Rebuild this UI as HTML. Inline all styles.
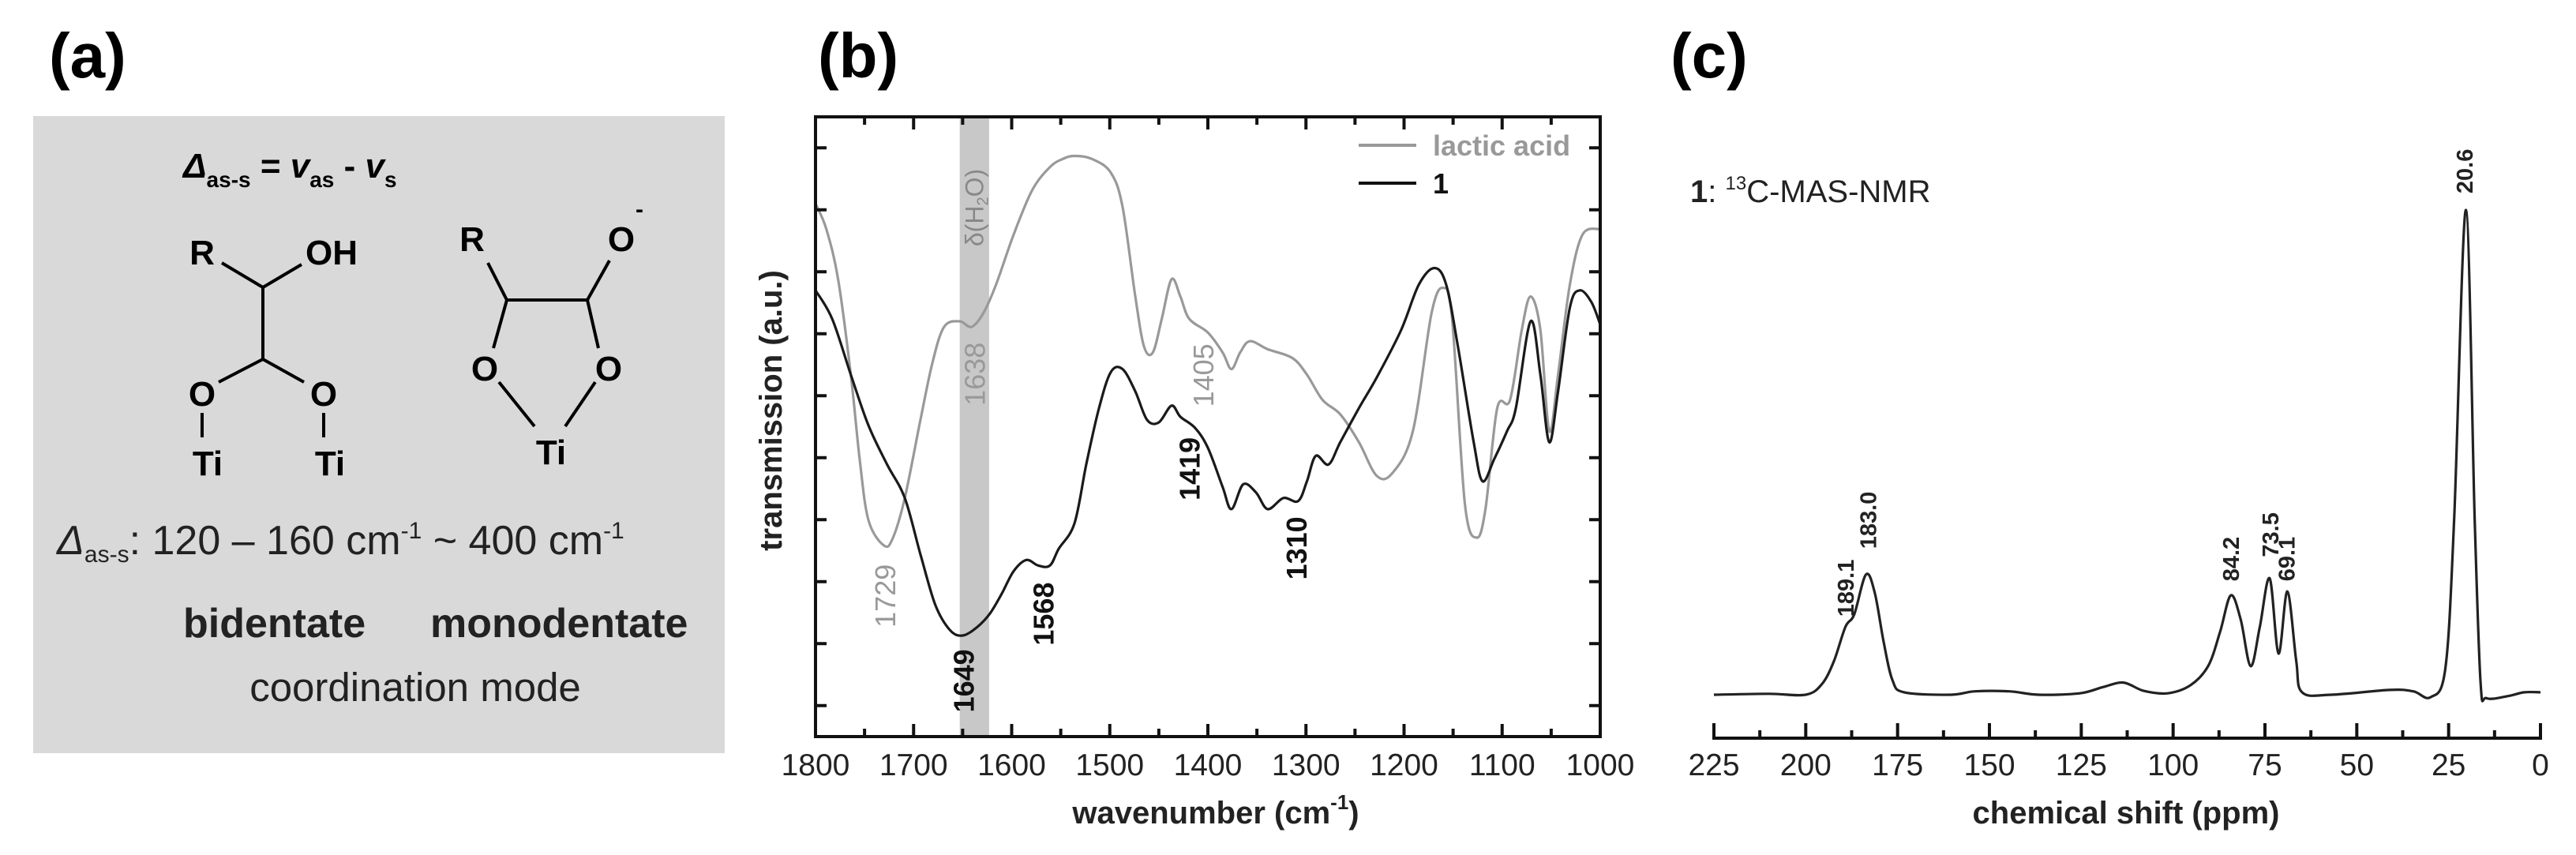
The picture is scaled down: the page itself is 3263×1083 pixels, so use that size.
<!DOCTYPE html>
<html><head><meta charset="utf-8"><style>
html,body{margin:0;padding:0;background:#fff;}
svg{display:block;font-family:"Liberation Sans",sans-serif;}
</style></head><body>
<svg id="fig" width="3263" height="1083" viewBox="0 0 3263 1083" xmlns="http://www.w3.org/2000/svg">
  <!-- Panel a -->
  <g>
    <text x="62" y="98" font-size="80" font-weight="bold">(a)</text>
    <rect x="42" y="147" width="876" height="807" fill="#d9d9d9"/>
    <text x="232" y="225" font-size="44" font-weight="bold"><tspan font-style="italic">Δ</tspan><tspan font-size="28" dy="12">as-s</tspan><tspan dy="-12"> = </tspan><tspan font-style="italic">v</tspan><tspan font-size="28" dy="12">as</tspan><tspan dy="-12"> - </tspan><tspan font-style="italic">v</tspan><tspan font-size="28" dy="12">s</tspan></text>
    <g stroke="#000" stroke-width="4" fill="none">
      <line x1="281" y1="333" x2="333" y2="364"/>
      <line x1="333" y1="364" x2="382" y2="335"/>
      <line x1="333" y1="364" x2="333" y2="455"/>
      <line x1="333" y1="455" x2="277" y2="484"/>
      <line x1="333" y1="455" x2="385" y2="484"/>
      <line x1="256" y1="523" x2="256" y2="554"/>
      <line x1="410" y1="523" x2="410" y2="554"/>
    </g>
    <g font-size="44" font-weight="bold" text-anchor="middle">
      <text x="256" y="335">R</text><text x="420" y="335">OH</text>
      <text x="256" y="514">O</text><text x="410" y="514">O</text>
      <text x="263" y="602">Ti</text><text x="418" y="602">Ti</text>
    </g>
    <g stroke="#000" stroke-width="4" fill="none">
      <line x1="618" y1="333" x2="642" y2="380"/>
      <line x1="642" y1="380" x2="744" y2="380"/>
      <line x1="744" y1="380" x2="772" y2="330"/>
      <line x1="642" y1="380" x2="625" y2="441"/>
      <line x1="744" y1="380" x2="758" y2="441"/>
      <line x1="632" y1="484" x2="677" y2="540"/>
      <line x1="754" y1="484" x2="716" y2="540"/>
    </g>
    <g font-size="44" font-weight="bold" text-anchor="middle">
      <text x="598" y="318">R</text><text x="787" y="318">O</text>
      <text x="810" y="275" font-size="30">-</text>
      <text x="614" y="482">O</text><text x="771" y="482">O</text>
      <text x="698" y="588">Ti</text>
    </g>
    <text x="72" y="702" font-size="52" fill="#222"><tspan font-style="italic">Δ</tspan><tspan font-size="30" dy="10">as-s</tspan><tspan dy="-10">:  120 – 160 cm</tspan><tspan font-size="30" dy="-20">-1</tspan><tspan dy="20">    ~ 400 cm</tspan><tspan font-size="30" dy="-20">-1</tspan></text>
    <text x="232" y="807" font-size="52" font-weight="bold" fill="#222">bidentate</text>
    <text x="545" y="807" font-size="52" font-weight="bold" fill="#222">monodentate</text>
    <text x="526" y="888" font-size="51" text-anchor="middle" fill="#222">coordination mode</text>
  </g>

  <!-- Panel b -->
  <g id="pb">
    <text x="1036" y="98" font-size="80" font-weight="bold">(b)</text>
  </g>
  <!-- Panel c -->
  <g id="pc">
    <text x="2116" y="98" font-size="80" font-weight="bold">(c)</text>
  </g>
</svg>
<script>
// ---------- Panel b data ----------
const irLacticWn = [1800,1789,1777,1764,1755,1746,1730,1721,1709,1693,1681,1669,1653,1641,1629,1616,1598,1579,1561,1548,1536,1518,1499,1487,1474,1465,1456,1447,1437,1428,1419,1400,1385,1376,1367,1357,1339,1314,1299,1283,1265,1246,1228,1212,1191,1172,1160,1151,1138,1126,1117,1105,1092,1080,1071,1061,1052,1043,1031,1018,1000];
const irLacticT = [86.0,81.9,73.8,58.4,44.8,34.9,30.8,32.1,38.5,51.1,60.2,66.1,67.0,66.1,68.3,72.9,81.0,88.2,91.9,93.2,93.7,93.2,91.0,85.5,71.0,62.9,62.0,67.4,73.8,71.0,67.4,65.2,62.0,59.3,62.0,63.8,62.5,61.1,58.4,54.3,52.0,47.5,42.1,42.5,49.3,68.3,72.4,67.4,37.6,32.1,36.7,53.0,54.3,65.6,71.0,65.6,49.3,58.4,72.9,81.0,81.9];
const irSample1Wn = [1800,1783,1764,1746,1727,1709,1693,1678,1663,1650,1635,1622,1610,1598,1585,1573,1561,1552,1536,1524,1511,1499,1487,1474,1462,1450,1437,1428,1413,1400,1385,1376,1364,1351,1339,1323,1308,1299,1290,1277,1265,1246,1228,1203,1185,1169,1157,1145,1129,1120,1108,1095,1086,1071,1061,1052,1043,1031,1021,1009,1000];
const irSample1T = [72.0,67.4,58.4,50.2,43.9,38.5,29.4,21.3,17.2,16.3,17.7,19.9,23.1,26.7,28.5,27.6,27.6,30.3,34.4,43.9,53.0,58.8,59.3,55.7,51.1,50.7,53.4,51.6,49.8,46.6,40.3,36.7,40.7,39.4,36.7,38.5,38.0,41.2,45.3,43.9,47.5,53.0,57.9,65.6,72.9,75.6,72.9,62.9,47.5,41.2,44.8,49.3,53.0,67.0,58.4,47.5,55.7,69.2,72.0,70.1,66.5];
const irXTicks = [1800,1700,1600,1500,1400,1300,1200,1100,1000];
const irYTicks = [5,15,25,35,45,55,65,75,85,95];
const waterBand = [1653,1623];
const irAnnotWn = [1729,1638,1649,1568,1419,1405,1310];
const irAnnotT = [22.7,58.5,9.0,19.8,43.2,58.3,30.4];
const irAnnotDark = [false,false,true,true,true,false,true];

// ---------- Panel c data ----------
const nmrPpm = [225,210,200,195.5,192.3,189.2,186.8,183.6,181.2,178.8,176.4,173.2,160.5,154,144.6,136.6,125.4,119,113.5,108,101.5,95.2,90.4,87.2,84.3,81.6,78.9,76.4,73.7,71.3,68.9,66.5,64.9,57,41,34.6,29.9,25.9,23.5,20.3,17.9,16.3,14.7,9,4.4,0];
const nmrI = [0,0.2,0,2.3,7,14,16.6,24.8,21,10.9,3,0.5,0,0.7,0.7,0,0.3,1.6,2.5,0.8,0.3,2,6,13,20.5,15.5,5.9,14,24,8.5,21.3,7,0.5,0,1,0.7,-0.5,5.4,36,100,36,2.3,-0.7,-0.3,0.5,0.5];
const nmrXTicks = [225,200,175,150,125,100,75,50,25,0];
const nmrLabelPpm = [20.6,183.0,189.1,84.2,73.5,69.1];
const nmrLabelText = ["20.6","183.0","189.1","84.2","73.5","69.1"];
const nmrLabelI = [108,36,22,28,33,28];

const NS='http://www.w3.org/2000/svg';
function mk(tag, attrs, parent){const e=document.createElementNS(NS,tag);for(const k in attrs)e.setAttribute(k,attrs[k]);parent.appendChild(e);return e;}
function smooth(pts){let d='M'+pts[0][0].toFixed(1)+','+pts[0][1].toFixed(1);for(let i=0;i<pts.length-1;i++){const p0=pts[Math.max(0,i-1)],p1=pts[i],p2=pts[i+1],p3=pts[Math.min(pts.length-1,i+2)];const c1=[p1[0]+(p2[0]-p0[0])/6,p1[1]+(p2[1]-p0[1])/6],c2=[p2[0]-(p3[0]-p1[0])/6,p2[1]-(p3[1]-p1[1])/6];d+=' C'+c1[0].toFixed(1)+','+c1[1].toFixed(1)+' '+c2[0].toFixed(1)+','+c2[1].toFixed(1)+' '+p2[0].toFixed(1)+','+p2[1].toFixed(1);}return d;}

// Panel b
const pb=document.getElementById('pb');
const L=1033,R=2027,T=148,B=933;
const xb=w=>L+(1800-w)/800*(R-L);
const yb=v=>B-v/100*(B-T);
const band=mk('rect',{x:xb(waterBand[0]),y:T,width:xb(waterBand[1])-xb(waterBand[0]),height:B-T,fill:'#c8c8c8'},pb);


const bt=mk('text',{x:0,y:0,'font-size':32,fill:'#888','text-anchor':'middle',transform:`translate(${(xb(waterBand[0])+xb(waterBand[1]))/2+11},263) rotate(-90)`},pb);
bt.innerHTML='δ(H<tspan font-size="20" dy="6">2</tspan><tspan dy="-6">O)</tspan>';


const gl=mk('path',{d:smooth(irLacticWn.map((w,i)=>[xb(w),yb(irLacticT[i])])),fill:'none',stroke:'#999','stroke-width':3.2},pb);


const bl=mk('path',{d:smooth(irSample1Wn.map((w,i)=>[xb(w),yb(irSample1T[i])])),fill:'none',stroke:'#1a1a1a','stroke-width':3.2},pb);


const fr=mk('rect',{x:L,y:T,width:R-L,height:B-T,fill:'none',stroke:'#111','stroke-width':4},pb);


for(let w=1800;w>=1000;w-=50){const x=xb(w);const len=(w%100===0)?16:10;
  const t1=mk('line',{x1:x,y1:B,x2:x,y2:B-len,stroke:'#111','stroke-width':4},pb);
  
  
  const t2=mk('line',{x1:x,y1:T,x2:x,y2:T+len,stroke:'#111','stroke-width':4},pb);
  
  }
irXTicks.forEach(w=>{const t=mk('text',{x:xb(w),y:982,'font-size':39,'text-anchor':'middle',fill:'#222'},pb);t.textContent=w;
  
  });
irYTicks.forEach(v=>{const y=yb(v);
  const a=mk('line',{x1:L,y1:y,x2:L+14,y2:y,stroke:'#111','stroke-width':4},pb);
  
  
  const b=mk('line',{x1:R,y1:y,x2:R-14,y2:y,stroke:'#111','stroke-width':4},pb);
  
  });
const yt=mk('text',{x:0,y:0,'font-size':40,'font-weight':'bold','text-anchor':'middle',fill:'#222',transform:'translate(990,520) rotate(-90)'},pb);
yt.textContent='transmission (a.u.)';


const xt=mk('text',{x:1540,y:1043,'font-size':40,'font-weight':'bold','text-anchor':'middle',fill:'#222'},pb);
xt.innerHTML='wavenumber (cm<tspan font-size="26" dy="-18">-1</tspan><tspan dy="18">)</tspan>';


irAnnotWn.forEach((w,i)=>{const t=mk('text',{x:0,y:0,'font-size':36,'font-weight':irAnnotDark[i]?'bold':'normal',fill:irAnnotDark[i]?'#111':'#999','text-anchor':'middle',transform:`translate(${xb(w)+13},${yb(irAnnotT[i])}) rotate(-90)`},pb);t.textContent=w;
  
  });
// legend
const lg=mk('g',{},pb);


const l1=mk('line',{x1:1721,y1:184,x2:1794,y2:184,stroke:'#999','stroke-width':4},lg);


const lt1=mk('text',{x:1815,y:197,'font-size':36,'font-weight':'bold',fill:'#999'},lg);lt1.textContent='lactic acid';


const l2=mk('line',{x1:1721,y1:232,x2:1794,y2:232,stroke:'#111','stroke-width':4},lg);


const lt2=mk('text',{x:1815,y:245,'font-size':36,'font-weight':'bold',fill:'#111'},lg);lt2.textContent='1';



// Panel c
const pc=document.getElementById('pc');
const CL=2171,CR=3218,CA=935,C0=880,C100=266;
const xc=p=>CL+(225-p)/225*(CR-CL);
const yc=v=>C0-v/100*(C0-C100);
const nl=mk('path',{d:smooth(nmrPpm.map((p,i)=>[xc(p),yc(nmrI[i])])),fill:'none',stroke:'#222','stroke-width':3.2},pc);


const ax=mk('line',{x1:CL-2,y1:CA,x2:CR+2,y2:CA,stroke:'#111','stroke-width':4},pc);


for(let p=225;p>=0;p-=12.5){const x=xc(p);const len=(p%25===0)?19:10;
  const t=mk('line',{x1:x,y1:CA,x2:x,y2:CA-len,stroke:'#111','stroke-width':4},pc);
  
  }
nmrXTicks.forEach(p=>{const t=mk('text',{x:xc(p),y:982,'font-size':39,'text-anchor':'middle',fill:'#222'},pc);t.textContent=p;
  
  });
const ct=mk('text',{x:2693,y:1043,'font-size':40,'font-weight':'bold','text-anchor':'middle',fill:'#222'},pc);ct.textContent='chemical shift (ppm)';


const tt=mk('text',{x:2141,y:256,'font-size':40,fill:'#222'},pc);
tt.innerHTML='<tspan font-weight="bold">1</tspan>: <tspan font-size="24" dy="-16">13</tspan><tspan dy="16">C-MAS-NMR</tspan>';


nmrLabelPpm.forEach((p,i)=>{const t=mk('text',{x:0,y:0,'font-size':29,'font-weight':'bold',fill:'#222','text-anchor':'middle',transform:`translate(${xc(p)+10},${yc(nmrLabelI[i])}) rotate(-90)`},pc);t.textContent=nmrLabelText[i];
  
  });
</script>
</body></html>
